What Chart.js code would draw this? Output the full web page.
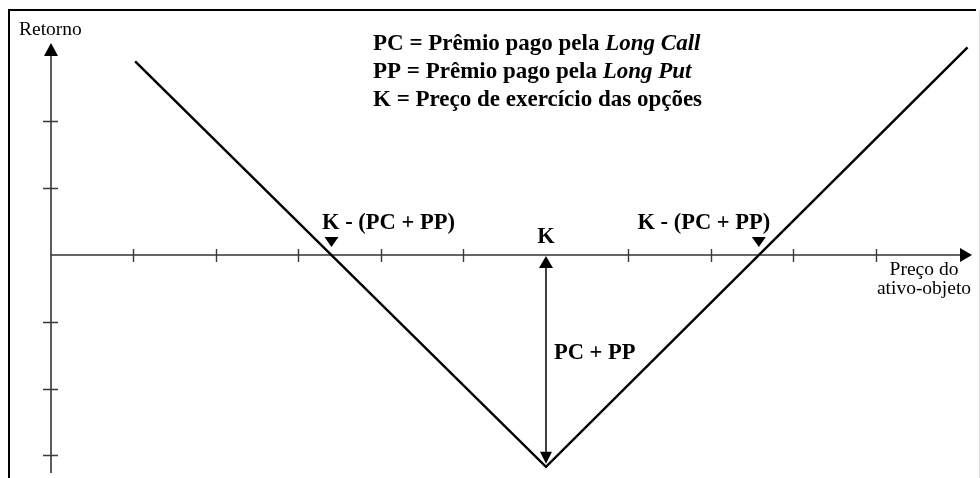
<!DOCTYPE html>
<html>
<head>
<meta charset="utf-8">
<title>Long straddle</title>
<script src="https://cdn.jsdelivr.net/npm/chart.js@4/dist/chart.umd.min.js"></script>
<style>
  html, body { margin: 0; padding: 0; background: #fff; }
  canvas { display: block; }
</style>
</head>
<body>
<canvas id="chart" width="980" height="478"></canvas>
<script>
// payoff of the straddle: strike K sits at x = 0, premium PC + PP below zero
const spot = [-4.98, 0, 5.11];
const payoff = [2.90, -3.17, 3.11];
const strike = 0;
const premium = -3.17;
const breakeven = [-2.60, 2.58];

const xTicks = [-5, -4, -3, -2, -1, 1, 2, 3, 4];
const yTicks = [2, 1, -1, -2, -3];

const legendLines = [
  ['PC = Prêmio pago pela ', 'Long Call'],
  ['PP = Prêmio pago pela ', 'Long Put'],
  ['K = Preço de exercício das opções', '']
];
const breakevenLabel = 'K - (PC + PP)';
const strikeLabel = 'K';
const premiumLabel = 'PC + PP';
const yTitle = 'Retorno';
const xTitle = ['Preço do', 'ativo-objeto'];

const SERIF = '"Liberation Serif", "Times New Roman", serif';

function arrowHead(ctx, tipX, tipY, dir, len, half) {
  ctx.beginPath();
  if (dir === 'up') {
    ctx.moveTo(tipX, tipY);
    ctx.lineTo(tipX - half, tipY + len);
    ctx.lineTo(tipX + half, tipY + len);
  } else if (dir === 'down') {
    ctx.moveTo(tipX, tipY);
    ctx.lineTo(tipX - half, tipY - len);
    ctx.lineTo(tipX + half, tipY - len);
  } else {
    ctx.moveTo(tipX, tipY);
    ctx.lineTo(tipX - len, tipY - half);
    ctx.lineTo(tipX - len, tipY + half);
  }
  ctx.closePath();
  ctx.fill();
}

const axesPlugin = {
  id: 'axes',
  beforeDatasetsDraw(chart) {
    const { ctx, chartArea, scales: { x, y } } = chart;
    const x0 = x.getPixelForValue(x.min);
    const y0 = y.getPixelForValue(0);
    ctx.save();

    // frame
    ctx.strokeStyle = '#000';
    ctx.lineWidth = 2;
    ctx.beginPath();
    ctx.moveTo(9, 478);
    ctx.lineTo(9, 10);
    ctx.lineTo(976, 10);
    ctx.stroke();
    ctx.strokeStyle = '#ddd';
    ctx.lineWidth = 1;
    ctx.beginPath();
    ctx.moveTo(979.5, 10);
    ctx.lineTo(979.5, 478);
    ctx.stroke();

    // axis lines
    ctx.strokeStyle = '#333';
    ctx.fillStyle = '#000';
    ctx.lineWidth = 1.6;
    ctx.beginPath();
    ctx.moveTo(x0, chartArea.bottom);
    ctx.lineTo(x0, chartArea.top + 8);
    ctx.moveTo(x0, y0);
    ctx.lineTo(chartArea.right - 8, y0);
    ctx.stroke();
    arrowHead(ctx, x0, chartArea.top, 'up', 13, 7);
    arrowHead(ctx, chartArea.right, y0, 'right', 12, 7);

    // ticks
    ctx.strokeStyle = '#3a3a3a';
    ctx.lineWidth = 1.4;
    ctx.beginPath();
    xTicks.forEach(v => {
      const px = Math.round(x.getPixelForValue(v)) + 0.5;
      ctx.moveTo(px, y0 - 6);
      ctx.lineTo(px, y0 + 7);
    });
    yTicks.forEach(v => {
      const py = Math.round(y.getPixelForValue(v)) + 0.5;
      ctx.moveTo(x0 - 8, py);
      ctx.lineTo(x0 + 7, py);
    });
    ctx.stroke();
    ctx.restore();
  },
  afterDatasetsDraw(chart) {
    const { ctx, scales: { x, y } } = chart;
    const y0 = y.getPixelForValue(0);
    const kx = x.getPixelForValue(strike);
    const bottom = y.getPixelForValue(premium);
    ctx.save();
    ctx.fillStyle = '#000';
    ctx.strokeStyle = '#111';

    // PC + PP double arrow
    ctx.lineWidth = 1.6;
    ctx.beginPath();
    ctx.moveTo(kx, y0 + 8);
    ctx.lineTo(kx, bottom - 8);
    ctx.stroke();
    arrowHead(ctx, kx, y0 + 1, 'up', 12, 7);
    arrowHead(ctx, kx, bottom - 3, 'down', 12, 6);

    // breakeven markers
    breakeven.forEach(v => {
      const px = x.getPixelForValue(v);
      ctx.beginPath();
      ctx.moveTo(px, y0 - 8);
      ctx.lineTo(px - 7, y0 - 18);
      ctx.lineTo(px + 7, y0 - 18);
      ctx.closePath();
      ctx.fill();
    });

    ctx.textBaseline = 'alphabetic';
    ctx.font = 'bold 22.5px ' + SERIF;
    ctx.textAlign = 'center';
    breakeven.forEach(v => {
      const px = x.getPixelForValue(v);
      const cx = v < strike ? px + 57 : px - 55;
      ctx.fillText(breakevenLabel, cx, y0 - 26);
    });
    ctx.fillText(strikeLabel, kx, y0 - 12);
    ctx.textAlign = 'left';
    ctx.fillText(premiumLabel, kx + 8, 359);

    // legend block
    legendLines.forEach((parts, i) => {
      const by = 50 + i * 28;
      ctx.font = 'bold 23px ' + SERIF;
      ctx.fillText(parts[0], 373, by);
      const w = ctx.measureText(parts[0]).width;
      if (parts[1]) {
        ctx.font = 'italic bold 23px ' + SERIF;
        ctx.fillText(parts[1], 373 + w, by);
      }
    });

    // axis titles
    ctx.font = '19.5px ' + SERIF;
    ctx.fillText(yTitle, 19, 35);
    ctx.textAlign = 'center';
    ctx.fillText(xTitle[0], 924, 275);
    ctx.fillText(xTitle[1], 924, 294);
    ctx.restore();
  }
};

new Chart(document.getElementById('chart').getContext('2d'), {
  type: 'line',
  data: {
    datasets: [
      {
        data: spot.map((s, i) => ({ x: s, y: payoff[i] })),
        borderColor: '#000',
        borderWidth: 2.5,
        pointRadius: 0,
        tension: 0,
        fill: false,
      },
    ],
  },
  options: {
    responsive: false,
    animation: false,
    devicePixelRatio: 1,
    layout: { padding: { left: 51, right: 8, top: 43, bottom: 5 } },
    plugins: { legend: { display: false }, tooltip: { enabled: false } },
    scales: {
      x: { type: 'linear', min: -6, max: 5.164, display: false },
      y: { type: 'linear', min: -3.263, max: 3.174, display: false },
    },
  },
  plugins: [axesPlugin],
});
</script>
</body>
</html>
